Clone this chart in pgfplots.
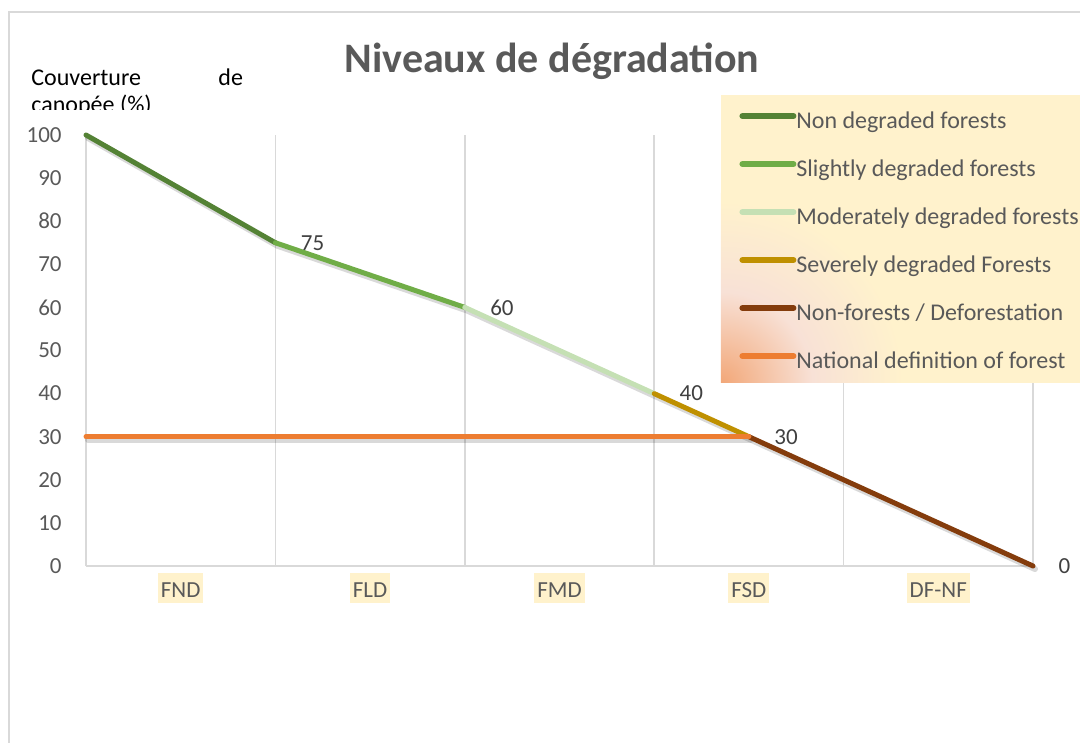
\documentclass[border=0pt]{standalone}
\usepackage{fontspec}
\setmainfont{Carlito}
\usepackage{pgfplots}
\pgfplotsset{compat=1.18}
\definecolor{cND}{HTML}{548235}
\definecolor{cSD}{HTML}{70AD47}
\definecolor{cMD}{HTML}{C5E0B4}
\definecolor{cSV}{HTML}{BF9000}
\definecolor{cNF}{HTML}{843C0C}
\definecolor{cNat}{HTML}{ED7D31}
\definecolor{legbg}{HTML}{FFF2CC}
\definecolor{legor}{HTML}{F2A778}
\definecolor{legpk}{HTML}{F8E1D6}
\definecolor{gridc}{HTML}{D9D9D9}
\definecolor{txt}{HTML}{595959}
\definecolor{lab}{HTML}{404040}
\pgfdeclareradialshading{legsh}{\pgfpoint{0bp}{0bp}}{color(0bp)=(legor); color(12bp)=(legpk); color(24bp)=(legbg); color(50bp)=(legbg)}
\begin{document}
\begin{tikzpicture}
\path[use as bounding box] (0,0) rectangle (540pt,-371.5pt);
\begin{scope}[x=0.5pt,y=-0.5pt]
\draw[gridc, line width=1pt] (9,12) rectangle (1120,780);
\node[anchor=base, text=txt, inner sep=0pt, font=\fontsize{21}{25}\selectfont\bfseries] at (552,73) {Niveaux de dégradation};
\node[anchor=base west, inner sep=0pt, font=\fontsize{12}{14}\selectfont] at (31,86) {Couverture};
\node[anchor=base west, inner sep=0pt, font=\fontsize{12}{14}\selectfont] at (218,86) {de};
\end{scope}
\begin{scope}[x=0.5pt,y=-0.5pt]
\clip (0,0) rectangle (400,110);
\node[anchor=base west, inner sep=0pt, font=\fontsize{12}{14}\selectfont] at (31,113) {canopée (\%)};
\end{scope}
\begin{axis}[
 at={(43pt,-283pt)}, anchor=south west,
 scale only axis, width=473.5pt, height=215.5pt,
 xmin=0, xmax=5, ymin=0, ymax=100,
 clip=false,
 axis x line*=bottom, axis y line*=left,
 x axis line style={draw=gridc, line width=0.75pt},
 y axis line style={draw=none},
 xtick={0.5,1.5,2.5,3.5,4.5},
 xticklabels={FND,FLD,FMD,FSD,DF-NF},
 minor xtick={0,1,2,3,4,5},
 xminorgrids=true,
 minor grid style={gridc, line width=0.75pt},
 major tick length=0pt, minor tick length=0pt,
 ytick={0,10,...,100},
 tick label style={font=\fontsize{11.5}{13}\selectfont, text=txt},
 xticklabel style={fill=legbg, inner xsep=1.5pt, inner ysep=0pt, text height=12pt, text depth=3pt, yshift=-3.5pt},
 yticklabel style={inner sep=0pt, xshift=-12pt},
 /pgf/number format/assume math mode=true,
 every node near coord/.append style={anchor=west, inner sep=0pt, xshift=11.5pt, text=lab, font=\fontsize{11.5}{13}\selectfont},
 legend style={at={(0.6900,1.0564)}, anchor=north west, draw=none, fill=none, inner sep=0pt, outer sep=0pt, row sep=12pt, column sep=0pt, font=\fontsize{12}{14}\selectfont, text=txt, nodes={inner sep=0pt, text height=9pt, text depth=3pt}},
 legend cell align=left,
 legend image code/.code={\path[draw=none] (0pt,0pt) -- (28.5pt,0pt); \draw[#1, line width=3pt, line cap=round] (1.5pt,3.3pt) -- (27pt,3.3pt);},
]
\addplot[forget plot, black, opacity=0.15, line width=3pt, line cap=round, line join=round, transform canvas={xshift=1pt,yshift=-1.5pt}] coordinates {(0,100)(1,75)(2,60)(3,40)(3.5,30)(5,0)};
\addplot[forget plot, black, opacity=0.15, line width=3pt, line cap=round, line join=round, transform canvas={xshift=1pt,yshift=-1.5pt}] coordinates {(0,30)(3.5,30)};
\addplot[cND, line width=2.5pt, line cap=round, line join=round, nodes near coords, point meta=explicit symbolic] coordinates {(0,100) [] (1,75) [75]};
\addlegendentry{Non degraded forests}
\addplot[cSD, line width=2.5pt, line cap=round, line join=round, nodes near coords, point meta=explicit symbolic] coordinates {(1,75) [] (2,60) [60]};
\addlegendentry{Slightly degraded forests}
\addplot[cMD, line width=2.5pt, line cap=round, line join=round, nodes near coords, point meta=explicit symbolic] coordinates {(2,60) [] (3,40) [40]};
\addlegendentry{Moderately degraded forests}
\addplot[cSV, line width=2.5pt, line cap=round, line join=round, nodes near coords, point meta=explicit symbolic] coordinates {(3,40) [] (3.5,30) [30]};
\addlegendentry{Severely degraded Forests}
\addplot[cNF, line width=2.5pt, line cap=round, line join=round, nodes near coords, point meta=explicit symbolic] coordinates {(3.5,30) [] (5,0) [0]};
\addlegendentry{Non-forests / Deforestation}
\addplot[cNat, line width=2.5pt, line cap=round, line join=round] coordinates {(0,30) (3.5,30)};
\addlegendentry{National definition of forest}
\fill[legbg] (rel axis cs:0.6705,0.4246) rectangle (rel axis cs:1.2,1.0928);
\begin{scope}
\clip (rel axis cs:0.6705,0.4246) rectangle (rel axis cs:1.2,1.0928);
\shade[shading=legsh] (rel axis cs:0.6705,0.4246) circle (95pt);
\end{scope}
\end{axis}
\end{tikzpicture}
\end{document}
